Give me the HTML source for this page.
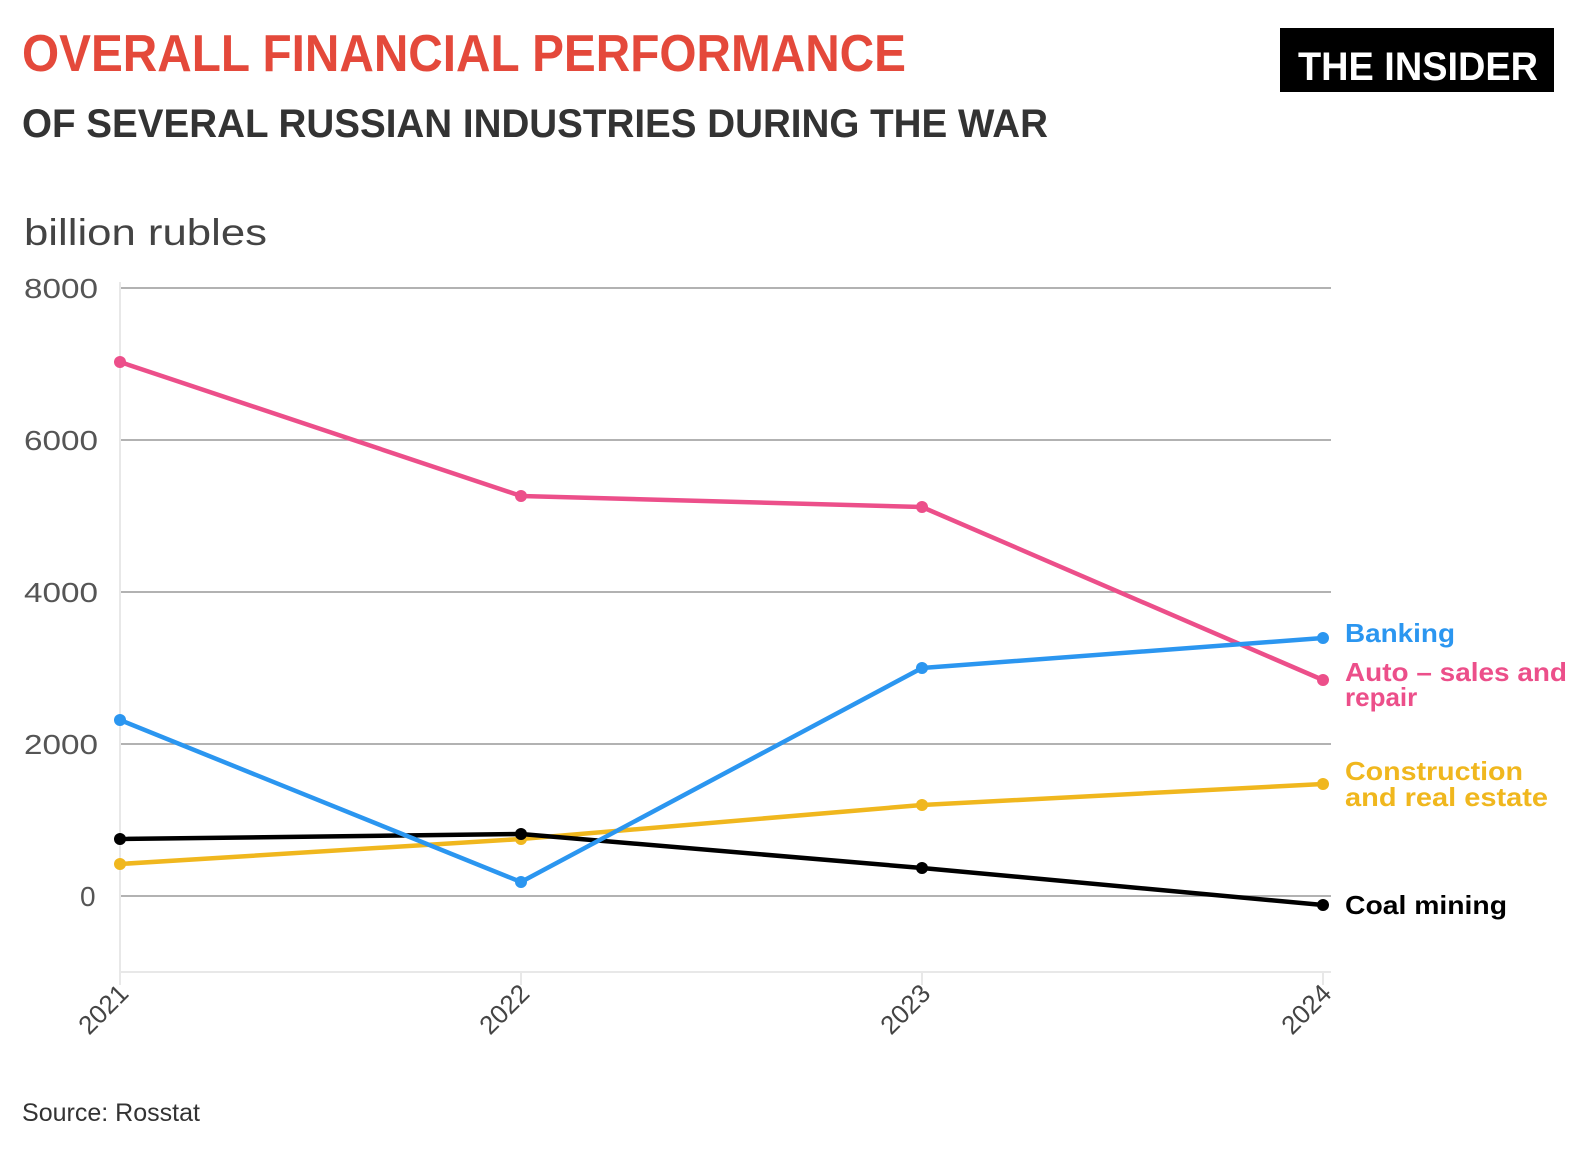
<!DOCTYPE html>
<html><head><meta charset="utf-8"><style>
body{margin:0;background:#fff;}
svg{display:block;}
text{font-family:"Liberation Sans",sans-serif;}
</style></head><body>
<svg width="1588" height="1150" viewBox="0 0 1588 1150" xmlns="http://www.w3.org/2000/svg">
<text x="22" y="71" font-size="52" font-weight="bold" fill="#e4493b" textLength="884" lengthAdjust="spacingAndGlyphs">OVERALL FINANCIAL PERFORMANCE</text>
<text x="22" y="137" font-size="40" font-weight="bold" fill="#333" textLength="1026" lengthAdjust="spacingAndGlyphs">OF SEVERAL RUSSIAN INDUSTRIES DURING THE WAR</text>
<rect x="1280" y="28" width="274" height="64" fill="#000"/>
<text x="1298" y="80" font-size="40" font-weight="bold" fill="#fff" textLength="240" lengthAdjust="spacingAndGlyphs">THE INSIDER</text>
<text x="24" y="245" font-size="37" fill="#444" textLength="243" lengthAdjust="spacingAndGlyphs">billion rubles</text>
<g stroke="#999" stroke-width="1.5">
<line x1="120" y1="288" x2="1331" y2="288"/>
<line x1="120" y1="440" x2="1331" y2="440"/>
<line x1="120" y1="592" x2="1331" y2="592"/>
<line x1="120" y1="744" x2="1331" y2="744"/>
<line x1="120" y1="896" x2="1331" y2="896"/>
</g>
<g stroke="#e8e8e8" stroke-width="2">
<line x1="120" y1="282" x2="120" y2="985"/>
<line x1="120" y1="972" x2="1331" y2="972"/>
<line x1="521" y1="972" x2="521" y2="985"/>
<line x1="922" y1="972" x2="922" y2="985"/>
<line x1="1323" y1="972" x2="1323" y2="985"/>
</g>
<g font-size="28" fill="#555">
<text x="24" y="298" textLength="74" lengthAdjust="spacingAndGlyphs">8000</text>
<text x="24" y="450" textLength="74" lengthAdjust="spacingAndGlyphs">6000</text>
<text x="24" y="602" textLength="74" lengthAdjust="spacingAndGlyphs">4000</text>
<text x="24" y="754" textLength="74" lengthAdjust="spacingAndGlyphs">2000</text>
<text x="80" y="906">0</text>
</g>
<g font-size="26" fill="#444" text-anchor="end">
<text transform="translate(130,995) rotate(-45)">2021</text>
<text transform="translate(531,995) rotate(-45)">2022</text>
<text transform="translate(932,995) rotate(-45)">2023</text>
<text transform="translate(1333,995) rotate(-45)">2024</text>
</g>
<g fill="none" stroke-width="4.5" stroke-linejoin="round">
<polyline stroke="#ec4f8a" points="120,362 521,496 922,507 1323,680"/>
<polyline stroke="#f0b71e" points="120,864 521,839 922,805 1323,784"/>
<polyline stroke="#000" points="120,839 521,834 922,868 1323,905"/>
<polyline stroke="#2b96f0" points="120,720 521,882 922,668 1323,638"/>
</g>
<g fill="#ec4f8a"><circle cx="120" cy="362" r="6"/><circle cx="521" cy="496" r="6"/><circle cx="922" cy="507" r="6"/><circle cx="1323" cy="680" r="6"/></g>
<g fill="#f0b71e"><circle cx="120" cy="864" r="6"/><circle cx="521" cy="839" r="6"/><circle cx="922" cy="805" r="6"/><circle cx="1323" cy="784" r="6"/></g>
<g fill="#000"><circle cx="120" cy="839" r="6"/><circle cx="521" cy="834" r="6"/><circle cx="922" cy="868" r="6"/><circle cx="1323" cy="905" r="6"/></g>
<g fill="#2b96f0"><circle cx="120" cy="720" r="6"/><circle cx="521" cy="882" r="6"/><circle cx="922" cy="668" r="6"/><circle cx="1323" cy="638" r="6"/></g>
<g font-size="26" font-weight="bold">
<text x="1345" y="642" fill="#2b96f0" textLength="110" lengthAdjust="spacingAndGlyphs">Banking</text>
<text x="1345" y="681" fill="#ec4f8a" textLength="222" lengthAdjust="spacingAndGlyphs">Auto – sales and</text>
<text x="1345" y="706" fill="#ec4f8a">repair</text>
<text x="1345" y="780" fill="#f0b71e" textLength="178" lengthAdjust="spacingAndGlyphs">Construction</text>
<text x="1345" y="806" fill="#f0b71e" textLength="203" lengthAdjust="spacingAndGlyphs">and real estate</text>
<text x="1345" y="914" fill="#000" textLength="162" lengthAdjust="spacingAndGlyphs">Coal mining</text>
</g>
<text x="22" y="1121" font-size="25" fill="#333" textLength="178" lengthAdjust="spacingAndGlyphs">Source: Rosstat</text>
</svg>
</body></html>
